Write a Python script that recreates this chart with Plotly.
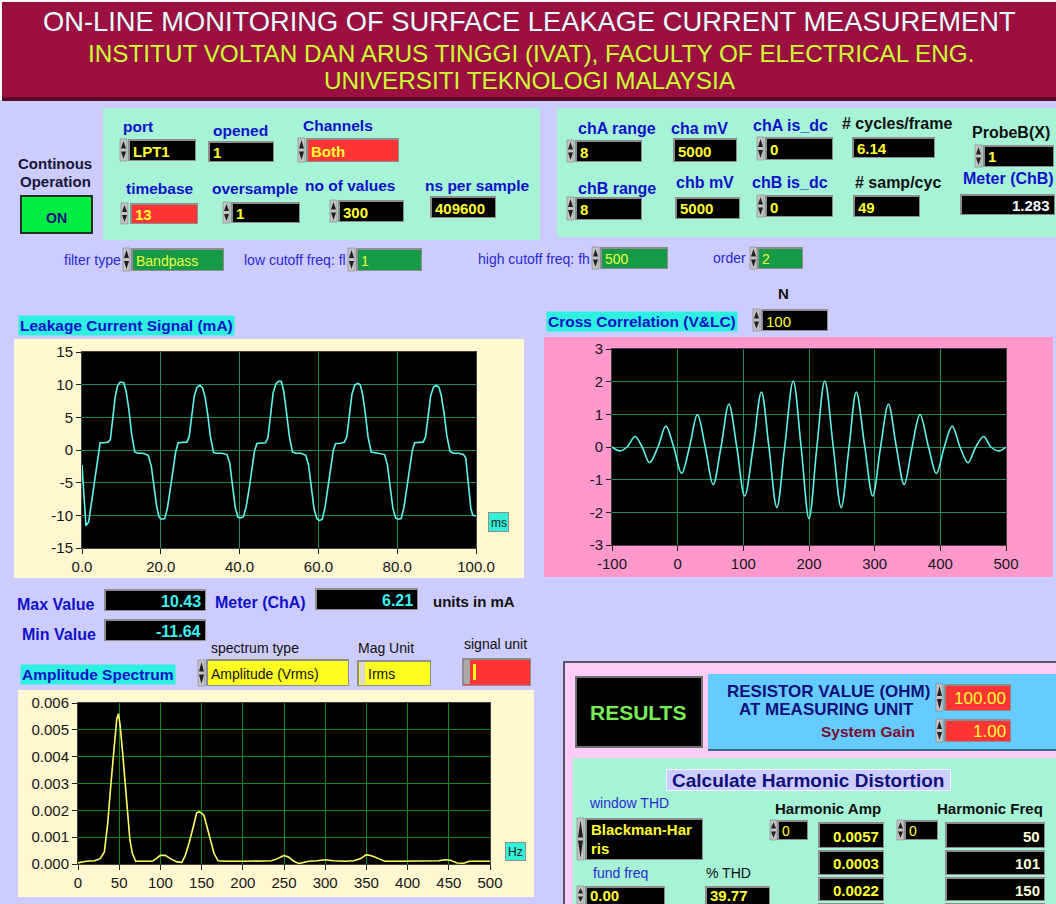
import plotly.graph_objects as go

# ---------------- data ----------------
leak_t_ms = [
    0.0, 0.4, 1.0, 1.7, 2.4, 3.2, 4.0, 4.6, 5.5, 6.6, 7.2, 7.8, 8.4, 9.0, 9.7, 10.6, 11.2, 11.9, 12.6, 13.4,
    14.2, 15.5, 16.8, 17.6, 18.3, 19.0, 19.6,
    20.2, 21.0, 21.7, 22.4, 23.1, 23.8, 24.4, 25.5, 26.6, 27.2, 27.8, 28.5, 29.2, 29.9, 30.6, 31.2, 31.9, 32.6,
    33.4, 34.2, 35.5, 36.8, 37.5, 38.2, 38.9, 39.6,
    40.2, 41.0, 41.7, 42.4, 43.1, 43.8, 44.4, 45.5, 46.6, 47.2, 47.8, 48.5, 49.2, 49.9, 50.6, 51.2, 51.9, 52.6,
    53.4, 54.2, 55.5, 56.8, 57.5, 58.2, 58.9, 59.6,
    60.2, 61.0, 61.7, 62.4, 63.1, 63.8, 64.4, 65.5, 66.6, 67.2, 67.8, 68.5, 69.2, 69.9, 70.6, 71.2, 71.9, 72.6,
    73.4, 74.2, 75.5, 76.8, 77.5, 78.2, 78.9, 79.6,
    80.2, 81.0, 81.7, 82.4, 83.1, 83.8, 84.4, 85.5, 86.6, 87.2, 87.8, 88.5, 89.2, 89.9, 90.6, 91.2, 91.9, 92.6,
    93.4, 94.2, 95.5, 96.8, 97.4, 98.0, 98.7, 99.2, 100.0,
]
leak_mA = [
    -2.3, -6.0, -11.6, -11.0, -8.1, -4.5, -0.8, 1.1, 1.1, 1.2, 1.6, 4.5, 8.0, 9.8, 10.4, 10.3, 9.0, 6.2, 2.4, -0.3,
    -0.5, -0.5, -0.8, -2.5, -5.8, -8.8, -10.3,
    -10.6, -10.5, -8.8, -6.0, -3.2, -0.2, 1.1, 1.1, 1.2, 2.0, 5.0, 8.3, 9.6, 9.9, 9.5, 8.2, 5.5, 2.0,
    -0.4, -0.5, -0.5, -0.7, -2.0, -5.5, -8.8, -10.3,
    -10.4, -10.2, -8.6, -6.0, -3.0, -0.1, 1.0, 1.0, 1.1, 1.9, 5.2, 8.7, 10.1, 10.5, 10.5, 9.0, 5.8, 2.2,
    -0.3, -0.5, -0.5, -0.8, -2.3, -5.8, -9.0, -10.5,
    -10.8, -10.6, -8.7, -5.8, -3.0, 0.0, 1.0, 1.0, 1.2, 2.0, 5.0, 8.5, 9.9, 10.2, 10.0, 8.6, 5.6, 2.0,
    -0.3, -0.4, -0.5, -0.7, -2.2, -5.6, -8.9, -10.4,
    -10.6, -10.5, -8.8, -6.0, -3.2, -0.2, 1.1, 1.1, 1.2, 2.0, 5.0, 8.3, 9.6, 9.9, 9.6, 8.3, 5.6, 2.2,
    -0.2, -0.5, -0.5, -0.7, -1.2, -5.0, -9.0, -10.0, -10.1,
]

xcorr_lag = [
    -100, -88, -77, -65, -54, -43, -30, -18, -6, 6, 18, 30, 42, 54, 66, 78, 90, 102, 115, 127.5, 139, 151,
    163, 176, 188, 200, 212, 224, 237, 249, 261, 272, 285, 297, 309, 321, 333, 345, 357, 369, 382, 394,
    406, 418, 430, 442, 454, 466, 477, 489, 500,
]
xcorr_val = [
    0.0, -0.12, 0.0, 0.32, 0.0, -0.48, 0.0, 0.64, 0.0, -0.81, 0.0, 0.99, 0.0, -1.15, 0.0, 1.31, 0.0, -1.5,
    0.0, 1.68, 0.0, -1.85, 0.0, 2.02, 0.0, -2.19, 0.0, 2.02, 0.0, -1.85, 0.0, 1.68, 0.0, -1.5, 0.0, 1.31,
    0.0, -1.15, 0.0, 0.99, 0.0, -0.81, 0.0, 0.64, 0.0, -0.48, 0.0, 0.32, 0.0, -0.12, 0.0,
]

spec_hz = [
    0, 10, 20, 27, 32, 36, 40, 44, 47, 49, 51, 54, 57, 60, 63, 66, 70, 80, 90, 95, 100, 106, 112, 120, 126,
    130, 135, 140, 144, 147, 150, 153, 157, 161, 165, 170, 180, 200, 220, 235, 242, 250, 256, 262, 268,
    280, 290, 300, 310, 325, 335, 343, 350, 357, 365, 372, 390, 420, 438, 445, 452, 460, 468, 475, 500,
]
spec_amp = [
    0.00004, 0.0001, 0.00012, 0.0002, 0.00045, 0.0015, 0.0030, 0.0045, 0.0054, 0.0056, 0.0052, 0.0042,
    0.0031, 0.0018, 0.0009, 0.0004, 0.0001, 0.0001, 0.0001, 0.0002, 0.00032, 0.00032, 0.0002, 0.00008,
    0.00006, 0.0003, 0.0008, 0.0014, 0.0019, 0.00195, 0.0019, 0.0018, 0.0013, 0.0008, 0.0004, 0.00012,
    0.0001, 0.0001, 0.0001, 0.00012, 0.0002, 0.00032, 0.00025, 0.0001, 0.00002, 0.0001, 0.00012, 0.00016,
    0.00012, 0.0001, 0.00012, 0.0002, 0.00035, 0.0003, 0.0002, 0.0001, 0.0001, 0.0001, 0.00012, 0.00016,
    0.00014, 0.00004, 0.00003, 0.0001, 0.0001,
]

leak_xticks = [0, 20, 40, 60, 80, 100]
leak_xlabels = ["0.0", "20.0", "40.0", "60.0", "80.0", "100.0"]
leak_yticks = [-15, -10, -5, 0, 5, 10, 15]
leak_ylabels = ["-15", "-10", "-5", "0", "5", "10", "15"]
xcorr_xticks = [-100, 0, 100, 200, 300, 400, 500]
xcorr_xlabels = ["-100", "0", "100", "200", "300", "400", "500"]
xcorr_yticks = [-3, -2, -1, 0, 1, 2, 3]
xcorr_ylabels = ["-3", "-2", "-1", "0", "1", "2", "3"]
spec_xticks = [0, 50, 100, 150, 200, 250, 300, 350, 400, 450, 500]
spec_xlabels = ["0", "50", "100", "150", "200", "250", "300", "350", "400", "450", "500"]
spec_yticks = [0.000, 0.001, 0.002, 0.003, 0.004, 0.005, 0.006]
spec_ylabels = ["0.000", "0.001", "0.002", "0.003", "0.004", "0.005", "0.006"]

harm_amp_txt = ["0.0057", "0.0003", "0.0022", ""]
harm_freq_txt = ["50", "101", "150", ""]

# ---------------- styling ----------------
W, H = 1056, 904
FONT = "Liberation Sans, Arial, sans-serif"
LAV = "#ccccff"
MINT = "#a6f3d6"
CREAM = "#fff8d0"
PINK = "#ff99cc"
CYANLBL = "#2ef0e0"
BLUE = "#1010c8"
NAVY = "#10107a"
DARK = "#16163a"
YEL = "#ffff33"
RED = "#ff3535"
GFIELD = "#169a45"
GRID = "#1f8a5c"
SGRID = "#0b8a1a"
LBL = 15.5

shapes, annots = [], []


def px(x):
    return x / W


def py(y):
    return 1 - y / H


def rect(x0, y0, x1, y1, fill, line=None, lw=0):
    shapes.append(dict(type="rect", xref="paper", yref="paper", layer="below",
                       x0=px(x0), x1=px(min(x1, W)), y0=py(min(y1, H)), y1=py(y0), fillcolor=fill,
                       line=dict(color=line if line else fill, width=lw)))


def poly(pts, fill):
    d = "M " + " L ".join(f"{px(x):.5f},{py(y):.5f}" for x, y in pts) + " Z"
    shapes.append(dict(type="path", xref="paper", yref="paper", layer="below", path=d,
                       fillcolor=fill, line=dict(width=0)))


def text(x, y, s, size=LBL, color=BLUE, bold=True, anchor="left", bg=None):
    a = dict(xref="paper", yref="paper", x=px(x), y=py(y), text=s, showarrow=False,
             xanchor=anchor, yanchor="middle", borderpad=0,
             font=dict(family=FONT, size=size, color=color, weight="bold" if bold else "normal"))
    if bg:
        a["bgcolor"] = bg
        a["borderpad"] = 1
    annots.append(a)


def field(x0, y0, x1, y1, s, fill="black", color=YEL, align="left", size=14, bold=True, ty=None):
    rect(x0, y0, x1, y1, "#8e8e8e")
    rect(x0 + 2, y0 + 2, x1 - 1, y1 - 1, fill)
    if s:
        yy = ty if ty is not None else (y0 + y1) / 2 + 1
        if align == "left":
            text(x0 + 4, yy, s, size, color, bold, "left")
        else:
            text(x1 - 4, yy, s, size, color, bold, "right")


def spin(x0, y0, y1, w=7):
    rect(x0, y0, x0 + w, y1, "#c4c4c4", "#707070", 0.5)
    ym = (y0 + min(y1, H)) / 2
    poly([(x0 + 1, ym - 1.5), (x0 + w - 1, ym - 1.5), (x0 + w / 2, y0 + 2)], "#202020")
    poly([(x0 + 1, ym + 1.5), (x0 + w - 1, ym + 1.5), (x0 + w / 2, min(y1, H) - 2)], "#202020")


# ---------------- header ----------------
rect(0, 0, W, 2, "white")
rect(0, 0, 2, 100, "white")
rect(2, 2, W, 97, "#9b1040")
rect(2, 97, W, 101, "#5c0a24")
text(529, 22, "ON-LINE MONITORING OF SURFACE LEAKAGE CURRENT MEASUREMENT", 27.3, "#e4ffff", False, "center")
text(531, 53, "INSTITUT VOLTAN DAN ARUS TINGGI (IVAT), FACULTY OF ELECTRICAL ENG.", 24.3, "#ccff33", False, "center")
text(530, 80, "UNIVERSITI TEKNOLOGI MALAYSIA", 24.3, "#ccff33", False, "center")

# ---------------- top control panels ----------------
rect(103, 108, 540, 240, MINT)
rect(557, 108, W, 237, MINT)

text(55, 163, "Continous", 15, DARK, True, "center")
text(55, 181, "Operation", 15, DARK, True, "center")
rect(20, 195, 93, 234, "#203020")
rect(22, 197, 91, 232, "#00ee44")
text(56, 218, "ON", 14, NAVY, True, "center")

text(122, 127, "port")
spin(120, 139, 161)
field(128, 139, 196, 161, "LPT1", size=15)
text(212, 131, "opened")
field(208, 141, 274, 162, "1", size=15)
text(302, 125, "Channels")
spin(298, 138, 162)
field(306, 138, 399, 162, "Both", fill=RED, size=15)

text(125, 188, "timebase")
spin(121, 203, 224)
field(130, 203, 198, 224, "13", fill=RED, size=15)
text(211, 188, "oversample")
spin(223, 202, 223)
field(231, 202, 300, 223, "1", size=15)
text(304, 186, "no of values")
spin(330, 200, 222)
field(338, 200, 404, 222, "300", size=15)
text(424, 185, "ns per sample")
field(430, 196, 496, 218, "409600", size=15)

text(577, 128, "chA range", 16)
spin(567, 140, 162)
field(575, 140, 642, 162, "8", size=15)
text(670, 128, "cha mV", 16)
field(673, 138, 737, 162, "5000", size=15)
text(752, 125, "chA is_dc", 16)
spin(757, 137, 160)
field(765, 137, 833, 160, "0", size=15)
text(841, 124, "# cycles/frame", 16, "#101010")
field(852, 137, 935, 158, "6.14", size=15)
text(971, 132, "ProbeB(X)", 16, "#101010")
spin(975, 145, 167)
field(983, 145, 1054, 167, "1", size=15)

text(577, 188, "chB range", 16)
spin(567, 197, 220)
field(575, 197, 642, 220, "8", size=15)
text(675, 182, "chb mV", 16)
field(675, 197, 740, 219, "5000", size=15)
text(751, 182, "chB is_dc", 16)
spin(757, 195, 217)
field(765, 195, 833, 217, "0", size=15)
text(854, 182, "# samp/cyc", 16, "#101010")
field(853, 195, 920, 217, "49", size=15)
text(962, 179, "Meter (ChB)", 16)
field(960, 194, 1055, 215, "1.283", color="#f4f4ff", align="right", size=15)

# filter row
text(122, 260, "filter type", 14, "#2a2ad0", False, "right")
spin(123, 248, 271)
field(131, 248, 224, 271, "Bandpass", fill=GFIELD, color="#e8ff40", bold=False)
text(347, 260, "low cutoff freq: fl", 14, "#2a2ad0", False, "right")
spin(348, 248, 271)
field(356, 248, 422, 271, "1", fill=GFIELD, color="#e8ff40", bold=False)
text(591, 259, "high cutoff freq: fh", 14, "#2a2ad0", False, "right")
spin(592, 247, 269)
field(600, 247, 668, 269, "500", fill=GFIELD, color="#e8ff40", bold=False)
text(747, 258, "order", 14, "#2a2ad0", False, "right")
spin(750, 247, 269)
field(757, 247, 803, 269, "2", fill=GFIELD, color="#e8ff40", bold=False)

# ---------------- leakage chart ----------------
text(18, 325, "Leakage Current Signal (mA)", 15.5, BLUE, True, "left", CYANLBL)
rect(14, 339, 524, 578, CREAM)
rect(82, 352, 476, 548, "black")
rect(488, 512, 509, 532, "#8e8e8e")
rect(489, 513, 508, 531, "#33f0d8")
text(498.5, 523, "ms", 12, "#202020", False, "center")

# ---------------- cross correlation chart ----------------
text(783, 293, "N", 15, "#101010", True, "center")
text(546, 322, "Cross Correlation (V&LC)", 15.5, BLUE, True, "left", CYANLBL)
spin(753, 309, 331)
field(761, 309, 828, 331, "100", bold=False, size=15)
rect(544, 337, 1053, 577, PINK)
rect(612, 349, 1006, 545, "black")

# ---------------- values row ----------------
text(16, 604, "Max Value", 16)
field(104, 589, 206, 611, "10.43", color="#40f0f0", align="right", size=16)
text(214, 602, "Meter (ChA)", 16)
field(315, 588, 418, 610, "6.21", color="#40f0f0", align="right", size=16)
text(432, 601, "units in mA", 15, "#101010")
text(21, 634, "Min Value", 16)
field(104, 619, 206, 641, "-11.64", color="#40f0f0", align="right", size=16)

text(210, 648, "spectrum type", 14, "#101010", False)
spin(198, 660, 686)
field(206, 659, 349, 686, "Amplitude (Vrms)", fill="#ffff22", color="#101010", bold=False, size=14)
text(357, 648, "Mag Unit", 14, "#101010", False)
field(357, 660, 431, 686, "", fill="#ffff22")
rect(360, 662, 365, 684, "#d8d8d8")
text(367, 674, "Irms", 14, "#101010", False)
text(463, 644, "signal unit", 14, "#101010", False)
field(462, 658, 531, 686, "", fill=RED)
rect(464, 660, 470, 684, "#a8a8a8")
rect(473, 664, 476, 680, "#ffff22")

# ---------------- spectrum chart ----------------
text(20, 674, "Amplitude Spectrum", 15.5, BLUE, True, "left", CYANLBL)
rect(18, 690, 534, 897, CREAM)
rect(78, 703, 490, 864, "black")
rect(505, 842, 526, 861, "#8e8e8e")
rect(506, 843, 525, 860, "#33f0d8")
text(515.5, 852, "Hz", 12, "#202020", False, "center")

# ---------------- results panel ----------------
rect(563, 661, W, H, "#555566")
rect(565, 663, W, H, "#ffccf8")
rect(575, 676, 703, 748, "#707070")
rect(577, 678, 701, 746, "black")
text(638, 712, "RESULTS", 21, "#77ee55", True, "center")
rect(708, 674, W, 751, "#3a6a90")
rect(708, 674, W, 749, "#66ccff")
text(828, 691, "RESISTOR VALUE (OHM)", 17, NAVY, True, "center")
text(826, 709, "AT MEASURING UNIT", 17, NAVY, True, "center")
spin(936, 684, 711)
field(944, 684, 1011, 711, "100.00", fill=RED, color=YEL, align="right", size=17, bold=False)
text(916, 731, "System Gain", 15.5, "#7a0a30", True, "right")
spin(936, 719, 742)
field(944, 719, 1011, 742, "1.00", fill=RED, color=YEL, align="right", size=17, bold=False)

rect(573, 758, W, H, MINT)
rect(666, 769, 951, 791, "#f0f0ff")
rect(667, 770, 950, 790, "#ccccff")
text(808, 780, "Calculate Harmonic Distortion", 19, NAVY, True, "center")

text(588, 803, "window THD", 14, "#2a2ad0", False)
spin(577, 818, 860)
field(585, 818, 703, 860, "", fill="black")
text(590, 829, "Blackman-Har", 15, YEL, True)
text(590, 848, "ris", 15, YEL, True)

text(592, 873, "fund freq", 14, "#2a2ad0", False)
spin(577, 886, 906)
field(585, 886, 665, 908, "0.00", size=15, ty=895)
text(705, 873, "% THD", 14, "#101010", False)
field(705, 886, 770, 908, "39.77", size=15, ty=895)

text(828, 808, "Harmonic Amp", 15, "#101010", True, "center")
spin(770, 820, 840)
field(777, 820, 808, 840, "0", bold=False)
text(990, 808, "Harmonic Freq", 15, "#101010", True, "center")
spin(897, 820, 840)
field(904, 820, 938, 840, "0", bold=False)
amp_rows = [(822, 848), (850, 875), (877, 901), (903, 930)]
for (r0, r1), sa, sf in zip(amp_rows, harm_amp_txt, harm_freq_txt):
    field(818, r0, 884, r1, sa, align="right", size=15)
    field(945, r0, 1045, r1, sf, color="#ffffdd", align="right", size=15)

# ---------------- traces ----------------
fig = go.Figure()
fig.add_trace(go.Scatter(x=leak_t_ms, y=leak_mA, mode="lines", xaxis="x", yaxis="y",
                         line=dict(color="#5ff5e8", width=1.6), hoverinfo="skip"))
fig.add_trace(go.Scatter(x=xcorr_lag, y=xcorr_val, mode="lines", xaxis="x2", yaxis="y2",
                         line=dict(color="#5ff5e8", width=1.6, shape="spline", smoothing=1.0), hoverinfo="skip"))
fig.add_trace(go.Scatter(x=spec_hz, y=spec_amp, mode="lines", xaxis="x3", yaxis="y3",
                         line=dict(color="#ffff66", width=1.6), hoverinfo="skip"))

tickfont = dict(family=FONT, size=15, color="#151515")


def ax(domain, rng, vals, labels, anchor, grid):
    return dict(domain=domain, range=rng, tickmode="array", tickvals=vals, ticktext=labels, anchor=anchor,
                showgrid=True, gridcolor=grid, gridwidth=1.3, zeroline=False, automargin=False,
                ticks="outside", ticklen=5, tickcolor="#202020", tickfont=tickfont,
                showline=True, linecolor="#404040", linewidth=1, mirror=True, fixedrange=True)


fig.update_layout(
    width=W, height=H, autosize=False,
    margin=dict(l=0, r=0, t=0, b=0, pad=0, autoexpand=False),
    paper_bgcolor=LAV, plot_bgcolor="rgba(0,0,0,0)",
    showlegend=False,
    shapes=shapes, annotations=annots,
    xaxis=ax([px(82), px(476)], [0, 100], leak_xticks, leak_xlabels, "y", GRID),
    yaxis=ax([py(548), py(352)], [-15, 15], leak_yticks, leak_ylabels, "x", GRID),
    xaxis2=ax([px(612), px(1006)], [-100, 500], xcorr_xticks, xcorr_xlabels, "y2", GRID),
    yaxis2=ax([py(545), py(349)], [-3, 3], xcorr_yticks, xcorr_ylabels, "x2", GRID),
    xaxis3=ax([px(78), px(490)], [0, 500], spec_xticks, spec_xlabels, "y3", SGRID),
    yaxis3=ax([py(864), py(703)], [0, 0.006], spec_yticks, spec_ylabels, "x3", SGRID),
)

fig.write_html("out.html", config={"displayModeBar": False},
               post_script="document.body.style.margin='0px';document.body.style.padding='0px';"
                           "document.documentElement.style.overflow='hidden';")
